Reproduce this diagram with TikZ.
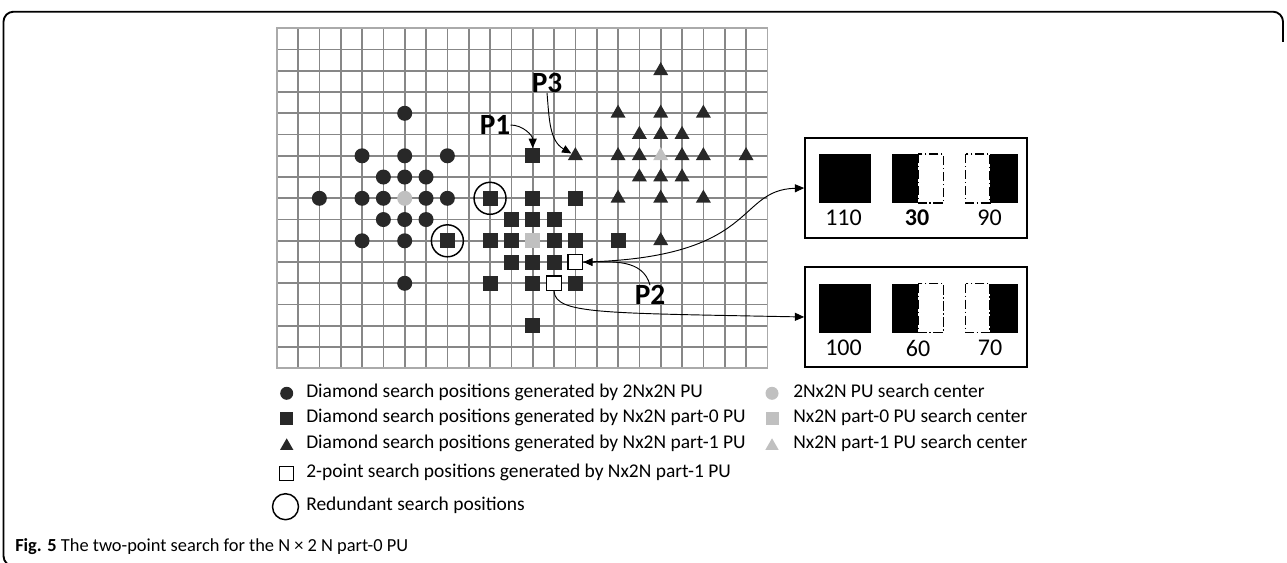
\documentclass[tikz,border=0pt]{standalone}
\usepackage{fontspec}
\setmainfont{Carlito}
\usetikzlibrary{shapes.geometric,arrows.meta,calc}
\definecolor{mk}{RGB}{40,40,40}
\definecolor{cg}{RGB}{192,192,192}
\definecolor{gl}{RGB}{135,135,135}
\definecolor{gb}{RGB}{170,170,170}
\begin{document}
\begin{tikzpicture}[x=0.75pt,y=-0.75pt,
  circ/.style={circle,fill=mk,minimum size=11.25pt,inner sep=0pt},
  sq/.style={rectangle,fill=mk,minimum size=11.25pt,inner sep=0pt},
  tri/.style={regular polygon,regular polygon sides=3,fill=mk,minimum size=13pt,inner sep=0pt},
  ctr/.style={fill=cg},
  wsq/.style={rectangle,fill=white,draw=black,line width=1pt,minimum size=11pt,inner sep=0pt},
  redc/.style={circle,draw=black,line width=1.1pt,minimum size=24pt,inner sep=0pt},
  plab/.style={font=\fontsize{22}{22}\selectfont\bfseries,inner sep=0pt},
  arr/.style={-{Triangle[length=7pt,width=6pt]},line width=0.7pt},
  boxn/.style={draw=black,line width=1.2pt,minimum width=166.5pt,minimum height=75pt,inner sep=0pt},
  dd/.style={draw=black,line width=1.1pt,dash pattern=on 7pt off 2pt on 1pt off 2pt},
  blab/.style={font=\fontsize{18}{18}\selectfont,inner sep=0pt},
  lt/.style={font=\fontsize{14.6}{14.6}\selectfont,inner sep=0pt,anchor=west,text height=1.5ex,text depth=0.3ex},
]
\useasboundingbox (0,0) rectangle (1287,563);
\fill[white] (0,0) rectangle (1287,563);
% frame
\draw[line width=1.4pt,rounded corners=7.5pt] (14,566) -- (3.5,566) -- (3.5,11.7) -- (1283,11.7) -- (1283,42);

\begin{scope}[shift={(276.7,28.3)},x=16pt,y=-15.9375pt]
  \foreach \i in {1,...,22} \draw[gl,line width=1.3pt] (\i,0) -- (\i,16);
  \foreach \j in {1,...,15} \draw[gl,line width=1.3pt] (0,\j) -- (23,\j);
  \draw[gb,line width=1.3pt] (0,0) rectangle (23,16);
  % circles (2Nx2N)
  \foreach \p/\q in {6/4,4/6,6/6,8/6,5/7,6/7,7/7,2/8,4/8,5/8,7/8,8/8,5/9,6/9,7/9,4/10,6/10,6/12}
    \node[circ] (c\p-\q) at (\p,\q) {};
  \node[circ,ctr] (c6-8) at (6,8) {};
  % squares (part-0)
  \foreach \p/\q in {12/6,12/8,14/8,11/9,12/9,13/9,10/10,11/10,13/10,14/10,16/10,11/11,12/11,13/11,10/12,12/12,14/12,12/14,8/10,10/8}
    \node[sq] (s\p-\q) at (\p,\q) {};
  \node[sq,ctr] (s12-10) at (12,10) {};
  \node[wsq] (w14-11) at (14,11) {};
  \node[wsq] (w13-12) at (13,12) {};
  \node[redc] (r8-10) at (8,10) {};
  \node[redc] (r10-8) at (10,8) {};
  % triangles (part-1)
  \foreach \p/\q in {18/2,16/4,18/4,20/4,17/5,18/5,19/5,14/6,16/6,17/6,19/6,20/6,22/6,17/7,18/7,19/7,16/8,18/8,20/8,18/10}
    \node[tri] (t\p-\q) at (\p,\q) {};
  \node[tri,ctr] (t18-6) at (18,6) {};
\end{scope}

% P labels
\node[plab] (P1) at (495,125) {P1};
\node[plab] (P3) at (547,83) {P3};
\node[plab] (P2) at (650,295) {P2};

% boxes
\node[boxn] (box1) at (916,188) {};
\node[boxn] (box2) at (916,317) {};
\foreach \y/\n in {154/1,283.5/2}{
  \fill (819,\y) rectangle (871,\y+49);
  \draw[dd] (918.3,\y) rectangle (943.3,\y+49);
  \fill (891.7,\y) rectangle (918.3,\y+49);
  \draw[dd] (965.7,\y) rectangle (990,\y+49);
  \fill (990,\y) rectangle (1017.5,\y+49);
}
\node[blab] (l110) at (843.5,218) {110};
\node[blab] (l30) at (917,218) {\bfseries 30};
\node[blab] (l90) at (989.5,218) {90};
\node[blab] (l100) at (843.5,348) {100};
\node[blab] (l60) at (918,348) {60};
\node[blab] (l70) at (990,348) {70};

% connectors
\draw[arr] (P1.east) to[out=0,in=90] (s12-6.north);
\draw[arr] (P3.south) to[out=-85,in=150] (t14-6.150);
\draw[arr] (P2.north) to[out=105,in=0] (w14-11.east);
\draw[arr] (w14-11.east) .. controls (760,258) and (735,190) .. (box1.west);
\draw[arr] (w13-12.south) .. controls (556,314) and (600,313) .. (box2.west);

% legend
\node[circ,minimum size=9.75pt] (lg1) at (286.7,393.3) {};
\node[lt] (lt1) at (306,393.3) {Diamond search positions generated by 2Nx2N PU};
\node[sq,minimum size=9.75pt] (lg2) at (286.7,418.3) {};
\node[lt] (lt2) at (306,418.3) {Diamond search positions generated by Nx2N part-0 PU};
\node[tri,minimum size=11.5pt] (lg3) at (286.7,446) {};
\node[lt] (lt3) at (306,445) {Diamond search positions generated by Nx2N part-1 PU};
\node[wsq,minimum size=10.5pt,line width=0.8pt] (lg4) at (286.7,473.3) {};
\node[lt] (lt4) at (306,473.3) {2-point search positions generated by Nx2N part-1 PU};
\node[redc,minimum size=19.5pt] (lg5) at (285.5,506.7) {};
\node[lt] (lt5) at (306,506.7) {Redundant search positions};
\node[circ,ctr,minimum size=9.75pt] (lg6) at (772,393.3) {};
\node[lt] (lt6) at (793,393.3) {2Nx2N PU search center};
\node[sq,ctr,minimum size=9.75pt] (lg7) at (772,418.3) {};
\node[lt] (lt7) at (793,418.3) {Nx2N part-0 PU search center};
\node[tri,ctr,minimum size=11.5pt] (lg8) at (772,446) {};
\node[lt] (lt8) at (793,445) {Nx2N part-1 PU search center};

% caption
\node[anchor=base west,inner sep=0pt,font=\fontsize{13.8}{13.8}\selectfont] (cap) at (15,551) {\textbf{Fig. 5} The two-point search for the N × 2 N part-0 PU};
\end{tikzpicture}
\end{document}
